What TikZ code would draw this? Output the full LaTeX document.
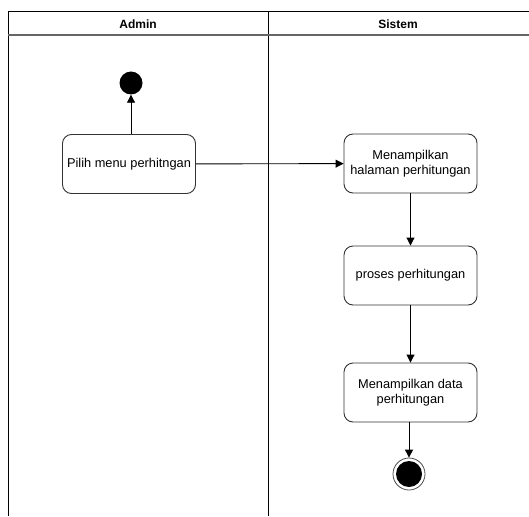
\documentclass[tikz,border=0pt]{standalone}
\usepackage{fontspec}
\setmainfont{Liberation Sans}
\usetikzlibrary{arrows.meta}
\begin{document}
\begin{tikzpicture}[x=1pt,y=-1pt,
  act/.style={draw=black!80, line width=0.9pt, rounded corners=9pt, minimum width=133pt, minimum height=59pt, align=center, font=\fontsize{12.8}{15}\selectfont, inner sep=1pt},
  flow/.style={draw=black, line width=0.9pt, -{Triangle[length=8pt,width=8pt]}},
  hdr/.style={font=\bfseries\fontsize{12}{14}\selectfont}]
\useasboundingbox (0,0) rectangle (529,516);
% swimlanes
\draw[line width=1pt] (8,516) -- (8,12) -- (529,12);
\draw[line width=1pt] (268,12) -- (268,516);
\draw[line width=1.2pt, black!60] (8,35) -- (529,35);
\node[hdr] (ha) at (138,24) {Admin};
\node[hdr] (hs) at (398,24) {Sistem};
% nodes
\node[circle, fill=black, minimum size=23pt, inner sep=0pt] (start) at (131,83) {};
\node[act] (pilih) at (129,164) {Pilih menu perhitngan};
\node[act] (tampil) at (410.5,163.5) {Menampilkan\\halaman perhitungan};
\node[act] (proses) at (410.5,275.5) {proses perhitungan};
\node[act] (data) at (410.5,392.5) {Menampilkan data\\perhitungan};
\node[circle, draw=black!70, line width=0.8pt, fill=white, minimum size=32pt, inner sep=0pt] (end) at (409,474) {};
\node[circle, fill=black, minimum size=26pt, inner sep=0pt] (endin) at (end) {};
% connectors
\draw[flow] (pilih.north -| start) -- (start);
\draw[flow] (pilih) -- (tampil);
\draw[flow] (tampil) -- (proses);
\draw[flow] (proses) -- (data);
\draw[flow] (data.south -| end) -- (end);
\end{tikzpicture}
\end{document}
